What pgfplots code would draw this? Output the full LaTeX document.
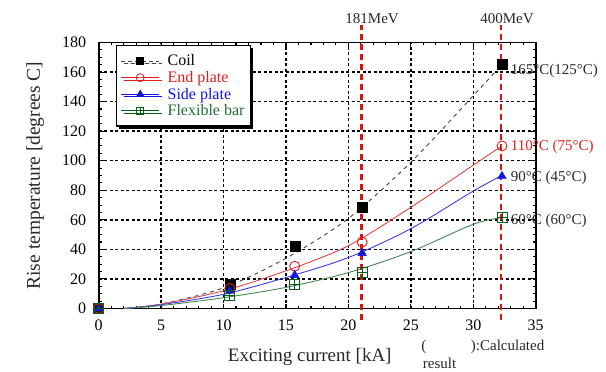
\documentclass[border=0pt]{standalone}
\usepackage{fontspec}
\setmainfont{Liberation Serif}
\usepackage{pgfplots}
\pgfplotsset{compat=1.18}
\usetikzlibrary{shadows,calc}
\definecolor{myred}{RGB}{225,30,30}
\definecolor{redline}{RGB}{225,70,70}
\definecolor{vred}{RGB}{215,20,20}
\definecolor{myblue}{RGB}{20,20,225}
\definecolor{blueline}{RGB}{60,60,235}
\definecolor{mygreen}{RGB}{0,95,20}
\definecolor{greenline}{RGB}{70,135,85}
\definecolor{greentext}{RGB}{35,110,55}
\definecolor{coilline}{RGB}{70,70,70}
\definecolor{txt}{RGB}{40,40,40}
\pgfdeclareplotmark{odot}{%
  \pgfpathcircle{\pgfpoint{0pt}{0pt}}{\pgfplotmarksize}\pgfusepathqstroke
  \pgfpathcircle{\pgfpoint{0pt}{0pt}}{0.6pt}\pgfusepathqfill}
\pgfdeclareplotmark{boxplus}{%
  \pgfpathrectangle{\pgfpoint{-\pgfplotmarksize}{-\pgfplotmarksize}}{\pgfpoint{2\pgfplotmarksize}{2\pgfplotmarksize}}%
  \pgfpathmoveto{\pgfpoint{-\pgfplotmarksize}{0pt}}\pgfpathlineto{\pgfpoint{\pgfplotmarksize}{0pt}}%
  \pgfpathmoveto{\pgfpoint{0pt}{-\pgfplotmarksize}}\pgfpathlineto{\pgfpoint{0pt}{\pgfplotmarksize}}%
  \pgfusepathqstroke}
\begin{document}
\begin{tikzpicture}
\begin{axis}[
  scale only axis, width=437bp, height=266bp,
  xmin=0, xmax=35, ymin=0, ymax=180,
  xtick={0,5,...,35}, ytick={0,20,...,180},
  minor x tick num=4, minor y tick num=3,
  tick align=inside,
  major tick length=5bp, minor tick length=3bp,
  grid=major,
  major grid style={black, line width=1.5bp, dash pattern=on 3bp off 2.5bp},
  axis line style={line width=1.8bp},
  every tick/.style={black, line width=1.1bp},
  tick label style={font=\fontsize{16bp}{18bp}\selectfont},
  /pgf/number format/assume math mode=true,
  xticklabel style={yshift=-8bp},
  yticklabel style={xshift=-9bp},
  clip=false,
  legend image code/.code={\draw[mark repeat=2,mark phase=2,#1] plot coordinates {(0bp,0bp) (19bp,0bp) (38bp,0bp)};},
  legend style={at={(rel axis cs:0.04,0.99)}, anchor=north west, draw=black, line width=1.3bp, fill=white,
    drop shadow={shadow xshift=2.5bp, shadow yshift=-2.5bp, fill=black, opacity=1},
    font=\fontsize{16bp}{16.5bp}\selectfont, inner xsep=4bp, inner ysep=7bp, row sep=0bp,
    cells={anchor=west}},
]
% legend images
\addlegendimage{coilline, line width=0.8bp, dash pattern=on 4bp off 3bp, mark=square*, mark size=3.5bp, mark options={solid, black}}
\addlegendentry{\hspace{6bp}Coil}
\addlegendimage{myred, line width=0.8bp, mark=odot, mark size=4bp, mark options={solid, line width=0.8bp, fill=white}}
\addlegendentry{\hspace{6bp}\textcolor{myred}{End plate}}
\addlegendimage{myblue, line width=0.8bp, mark=triangle*, mark size=4bp, mark options={solid}}
\addlegendentry{\hspace{6bp}\textcolor{myblue}{Side plate}}
\addlegendimage{mygreen, line width=0.8bp, mark=boxplus, mark size=3.5bp, mark options={solid, line width=0.8bp}}
\addlegendentry{\hspace{6bp}\textcolor{greentext}{Flexible bar}}

% fitted curves
\addplot[forget plot, coilline, line width=0.9bp, dash pattern=on 4bp off 4bp, smooth] coordinates {
 (2,0) (5,3) (10,14) (15,34) (20,61) (25,99) (30,144) (32.3,165)};
\addplot[forget plot, redline, line width=0.9bp, smooth] coordinates {
 (2,0) (5,3) (10,12) (15,25.5) (20,42.5) (25,68.5) (30,97) (32.3,110)};
\addplot[forget plot, blueline, line width=0.9bp, smooth] coordinates {
 (2,0) (5,2.6) (10,9.6) (15,21) (20,34.5) (25,54) (30,79.5) (32.3,90)};
\addplot[forget plot, greenline, line width=0.9bp, smooth] coordinates {
 (2,0) (5,2) (10,7.3) (15,14.3) (20,24.3) (25,38.5) (30,57) (32.3,61.5)};

% measured points
\addplot[forget plot, only marks, mark=square*, mark size=5bp, black] coordinates {
 (0,0) (10.5,16.4) (15.7,42) (21.1,68.5) (32.3,165)};
\addplot[forget plot, only marks, mark=odot, mark size=5bp, myred, line width=0.9bp, fill=white] coordinates {
 (0,0) (10.5,13.5) (15.7,28.6) (21.1,45) (32.3,110)};
\addplot[forget plot, only marks, mark=triangle*, mark size=5bp, myblue] coordinates {
 (0,0) (10.5,12) (15.7,22.5) (21.1,37.5) (32.3,89.5)};
\addplot[forget plot, only marks, mark=boxplus, mark size=5bp, mygreen, line width=0.9bp, fill=white] coordinates {
 (0,0) (10.5,8.6) (15.7,16.6) (21.1,24.5) (32.3,61.5)};

% energy lines
\addplot[forget plot, vred, line width=2.2bp, dash pattern=on 6bp off 4bp] coordinates {(21.05,-8) (21.05,192)};
\addplot[forget plot, vred, line width=2.2bp, dash pattern=on 6bp off 4bp] coordinates {(32.25,-8) (32.25,192)};

\node[font=\fontsize{15bp}{17bp}\selectfont, txt] at (axis cs:21.9,196) {181MeV};
\node[font=\fontsize{15bp}{17bp}\selectfont, txt] at (axis cs:32.7,196) {400MeV};

\node[anchor=west, font=\fontsize{15bp}{17bp}\selectfont, txt, inner sep=0pt] at (axis cs:33.0,160.7) {165°C(125°C)};
\node[anchor=west, font=\fontsize{15bp}{17bp}\selectfont, myred, inner sep=0pt] at (axis cs:33.0,109.3) {110°C (75°C)};
\node[anchor=west, font=\fontsize{15bp}{17bp}\selectfont, txt, inner sep=0pt] at (axis cs:33.0,88.3) {90°C (45°C)};
\node[anchor=west, font=\fontsize{15bp}{17bp}\selectfont, txt, inner sep=0pt] at (axis cs:33.0,59.2) {60°C (60°C)};

\node[font=\fontsize{15bp}{17bp}\selectfont, txt] at (axis cs:26.05,-26) {(};
\node[anchor=west, font=\fontsize{15bp}{17bp}\selectfont, txt, inner sep=0pt] at (axis cs:29.8,-26) {):Calculated};
\node[font=\fontsize{15bp}{17bp}\selectfont, txt] at (axis cs:27.3,-37) {result};

\node[font=\fontsize{19bp}{21bp}\selectfont, txt, yshift=-48.5bp] at (rel axis cs:0.483,0) {Exciting current [kA]};
\node[font=\fontsize{19.5bp}{21bp}\selectfont, txt, rotate=90] at ($(rel axis cs:0,0.5)+(-63.5bp,0bp)$) {Rise temperature [degrees C]};
\end{axis}
\pgfresetboundingbox
\path (-98.7bp,-63.5bp) rectangle (507.3bp,308.5bp);
\end{tikzpicture}
\end{document}
